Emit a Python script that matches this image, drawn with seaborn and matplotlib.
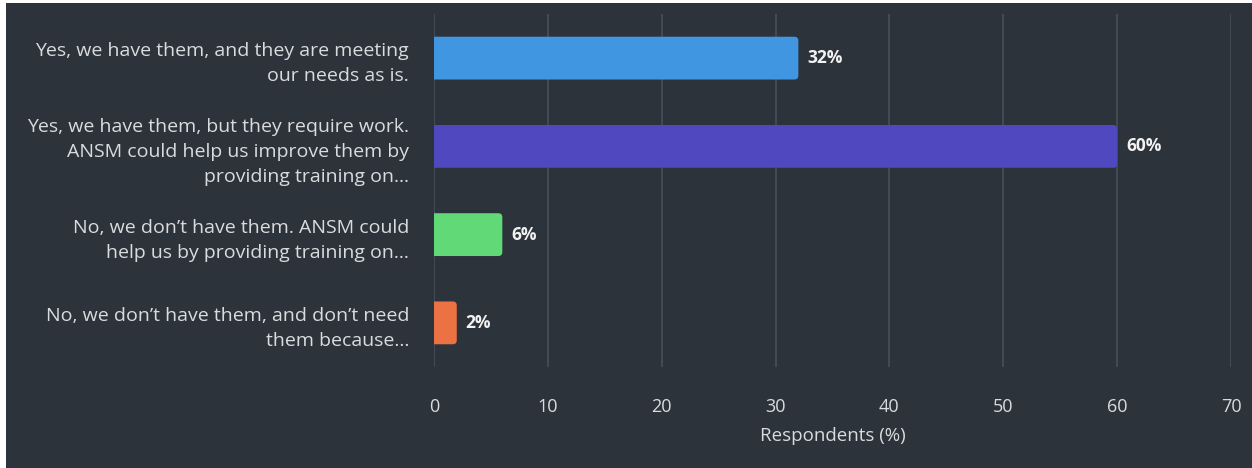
import matplotlib
matplotlib.use("Agg")
import matplotlib.pyplot as plt
from matplotlib.patches import FancyBboxPatch, Rectangle
import seaborn as sns
import pandas as pd

# Survey answers and share of respondents (%)
answers = [
    "Yes, we have them, and they are meeting\nour needs as is.",
    "Yes, we have them, but they require work.\nANSM could help us improve them by\nproviding training on...",
    "No, we don\u2019t have them. ANSM could\nhelp us by providing training on...",
    "No, we don\u2019t have them, and don\u2019t need\nthem because...",
]
shares = [32, 60, 6, 2]
value_labels = ["32%", "60%", "6%", "2%"]
bar_colors = ["#4096e0", "#5048bf", "#62d977", "#ec7244"]
x_ticks = [0, 10, 20, 30, 40, 50, 60, 70]

BG = "#2d333a"
GRID = "#4b525b"
TEXT = "#d9dcdf"

sns.set_theme(style="dark")
plt.rcParams["font.family"] = ["Open Sans", "DejaVu Sans"]

df = pd.DataFrame({"answer": answers, "share": shares})

fig = plt.figure(figsize=(12.52, 4.68), dpi=100, facecolor="white")
# dark panel with a thin light margin on the left and top
fig.patches.append(Rectangle((6 / 1252, 0), 1, 1 - 3 / 468, transform=fig.transFigure,
                             facecolor=BG, edgecolor="none", zorder=-10))
ax = fig.add_axes([434 / 1252, 1 - 367 / 468, (1231 - 434) / 1252, (367 - 14) / 468])
ax.set_facecolor(BG)

sns.barplot(data=df, x="share", y="answer", hue="answer", palette=bar_colors,
            width=0.485, legend=False, ax=ax, zorder=3)

ax.set_xlim(0, 70)
ax.set_ylim(3.5, -0.5)
ax.set_xticks(x_ticks)
ax.xaxis.grid(True, color=GRID, linewidth=1.1, zorder=0)
ax.yaxis.grid(False)
for s in ax.spines.values():
    s.set_visible(False)

# replace square bars by bars with rounded right corners
px_per_x = (1231 - 434) / 70.0
px_per_y = (367 - 14) / 4.0
r_px = 4.0
r_x = r_px / px_per_x
aspect = (r_px / px_per_y) / r_x
for patch, color, label in zip(list(ax.patches), bar_colors, value_labels):
    x0, y0 = patch.get_x(), patch.get_y()
    w, h = patch.get_width(), patch.get_height()
    patch.set_visible(False)
    rounded = FancyBboxPatch((x0 - 1.0, y0), w + 1.0, h,
                             boxstyle=f"round,pad=0,rounding_size={r_x}",
                             mutation_aspect=aspect, facecolor=color,
                             edgecolor="none", zorder=3)
    ax.add_patch(rounded)
    ax.text(w + 9 / px_per_x, y0 + h / 2, label, va="center", ha="left",
            color="#f2f2f2", fontsize=12.5, fontweight="bold", zorder=4)

ax.tick_params(axis="x", colors=TEXT, labelsize=13, length=0, pad=22)
ax.tick_params(axis="y", colors=TEXT, labelsize=14, length=0, pad=18)
for t in ax.get_yticklabels():
    t.set_linespacing(1.5)
    t.set_horizontalalignment("right")
ax.set_ylabel("")
ax.set_xlabel("Respondents (%)", color=TEXT, fontsize=13.5, labelpad=8)

fig.savefig("out.png", dpi=100, facecolor=fig.get_facecolor())
